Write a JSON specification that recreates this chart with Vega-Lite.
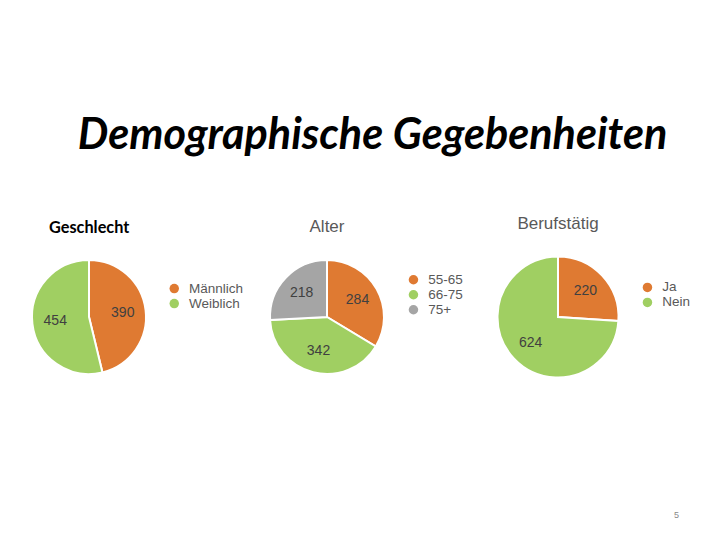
{
  "$schema": "https://vega.github.io/schema/vega-lite/v6.json",
  "autosize": {"type": "none"},
  "padding": {"left": 0, "top": 237, "right": 720, "bottom": 303},
  "background": "white",
  "config": {"view": {"stroke": null}},
  "title": {"text": "Demographische Gegebenheiten", "font": "Lato", "fontSize": 43.2, "fontWeight": "bold", "fontStyle": "italic", "color": "#000000", "anchor": "middle", "frame": "group", "dx": 372.5, "offset": 23, "baseline": "alphabetic"},
  "datasets": {
    "geschlecht": [{"Kategorie": "Männlich", "Anzahl": 390}, {"Kategorie": "Weiblich", "Anzahl": 454}],
    "alter": [{"Kategorie": "55-65", "Anzahl": 284}, {"Kategorie": "66-75", "Anzahl": 342}, {"Kategorie": "75+", "Anzahl": 218}],
    "beruf": [{"Kategorie": "Ja", "Anzahl": 220}, {"Kategorie": "Nein", "Anzahl": 624}]
  },
  "vconcat": [
    {
      "title": {"text": "5", "orient": "bottom", "anchor": "end", "frame": "group", "dx": 679, "offset": 121, "baseline": "alphabetic", "fontSize": 9, "color": "#898989", "font": "Liberation Sans", "fontWeight": "normal"},
      "bounds": "flush",
      "spacing": 0,
      "resolve": {"scale": {"color": "independent", "theta": "independent"}, "legend": {"color": "independent"}},
      "hconcat": [
        {
          "width": 178, "height": 160,
          "title": {"text": "Geschlecht", "anchor": "start", "frame": "group", "dx": 49, "offset": -12, "baseline": "alphabetic", "font": "Lato", "fontSize": 16.3, "fontWeight": "bold", "color": "#000000"},
          "data": {"name": "geschlecht"},
          "encoding": {
            "theta": {"field": "Anzahl", "type": "quantitative", "stack": true},
            "order": {"field": "Kategorie", "type": "ordinal", "sort": "ascending"},
            "color": {"field": "Kategorie", "type": "nominal", "scale": {"domain": ["Männlich", "Weiblich"], "range": ["#DF7A32", "#A0CF62"]},
              "legend": {"orient": "none", "direction": "vertical", "legendX": 167.5, "legendY": 44.8, "title": null, "symbolType": "circle", "symbolSize": 90, "symbolStrokeWidth": 0, "labelFont": "Liberation Sans", "labelFontSize": 13.5, "labelColor": "#595959", "labelOffset": 8, "rowPadding": 0, "padding": 0}}
          },
          "layer": [
            {"mark": {"type": "arc", "outerRadius": 57, "stroke": "white", "strokeWidth": 2}},
            {"mark": {"type": "text", "radius": 34, "font": "Liberation Sans", "fontSize": 14}, "encoding": {"text": {"field": "Anzahl", "type": "quantitative"}, "color": {"value": "#404040"}}}
          ]
        },
        {
          "width": 298, "height": 160,
          "title": {"text": "Alter", "anchor": "middle", "frame": "group", "offset": -12, "baseline": "alphabetic", "font": "Liberation Sans", "fontSize": 17, "fontWeight": "normal", "color": "#595959"},
          "data": {"name": "alter"},
          "encoding": {
            "theta": {"field": "Anzahl", "type": "quantitative", "stack": true},
            "order": {"field": "Kategorie", "type": "ordinal", "sort": "ascending"},
            "color": {"field": "Kategorie", "type": "nominal", "scale": {"domain": ["55-65", "66-75", "75+"], "range": ["#DF7A32", "#A0CF62", "#A5A5A5"]},
              "legend": {"orient": "none", "direction": "vertical", "legendX": 228.7, "legendY": 36, "title": null, "symbolType": "circle", "symbolSize": 90, "symbolStrokeWidth": 0, "labelFont": "Liberation Sans", "labelFontSize": 13.5, "labelColor": "#595959", "labelOffset": 8, "rowPadding": 0, "padding": 0}}
          },
          "layer": [
            {"mark": {"type": "arc", "outerRadius": 57, "stroke": "white", "strokeWidth": 2}},
            {"mark": {"type": "text", "radius": 35, "font": "Liberation Sans", "fontSize": 14}, "encoding": {"text": {"field": "Anzahl", "type": "quantitative"}, "color": {"value": "#404040"}}}
          ]
        },
        {
          "width": 164, "height": 160,
          "title": {"text": "Berufstätig", "anchor": "middle", "frame": "group", "offset": -9, "baseline": "alphabetic", "font": "Liberation Sans", "fontSize": 17, "fontWeight": "normal", "color": "#595959"},
          "data": {"name": "beruf"},
          "encoding": {
            "theta": {"field": "Anzahl", "type": "quantitative", "stack": true},
            "order": {"field": "Kategorie", "type": "ordinal", "sort": "ascending"},
            "color": {"field": "Kategorie", "type": "nominal", "scale": {"domain": ["Ja", "Nein"], "range": ["#DF7A32", "#A0CF62"]},
              "legend": {"orient": "none", "direction": "vertical", "legendX": 164.7, "legendY": 43.7, "title": null, "symbolType": "circle", "symbolSize": 90, "symbolStrokeWidth": 0, "labelFont": "Liberation Sans", "labelFontSize": 13.5, "labelColor": "#595959", "labelOffset": 8, "rowPadding": 0, "padding": 0}}
          },
          "layer": [
            {"mark": {"type": "arc", "outerRadius": 60.5, "stroke": "white", "strokeWidth": 2}},
            {"mark": {"type": "text", "radius": 37.5, "font": "Liberation Sans", "fontSize": 14}, "encoding": {"text": {"field": "Anzahl", "type": "quantitative"}, "color": {"value": "#404040"}}}
          ]
        }
      ]
    }
  ]
}
